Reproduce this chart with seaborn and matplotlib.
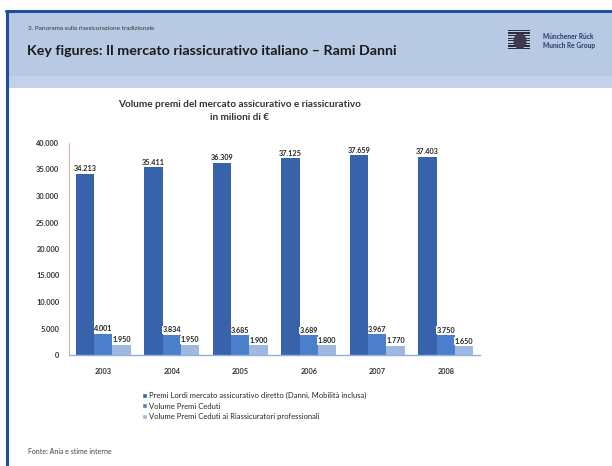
import matplotlib
matplotlib.use("Agg")
import matplotlib.pyplot as plt
import seaborn as sns
import pandas as pd
from matplotlib.patches import Rectangle, Ellipse
from matplotlib.lines import Line2D

years = ["2003", "2004", "2005", "2006", "2007", "2008"]
series_names = [
    "Premi Lordi mercato assicurativo diretto (Danni, Mobilità inclusa)",
    "Volume Premi Ceduti",
    "Volume Premi Ceduti ai Riassicuratori professionali",
]
premi_lordi = [34213, 35411, 36309, 37125, 37659, 37403]
premi_ceduti = [4001, 3834, 3685, 3689, 3967, 3750]
premi_ceduti_riass = [1950, 1950, 1900, 1800, 1770, 1650]
y_ticks = [0, 5000, 10000, 15000, 20000, 25000, 30000, 35000, 40000]
colors = ["#3863ab", "#4b7ecb", "#9fb8e0"]

def fmt(v):
    return f"{v:,}".replace(",", ".")

rows = []
for name, vals in zip(series_names, [premi_lordi, premi_ceduti, premi_ceduti_riass]):
    for y, v in zip(years, vals):
        rows.append({"Anno": y, "Serie": name, "Valore": v})
df = pd.DataFrame(rows)

sns.set_theme(style="white")
plt.rcParams["font.family"] = ["Lato", "DejaVu Sans"]

fig = plt.figure(figsize=(6.12, 4.66), dpi=100)
fig.patch.set_facecolor("white")

# slide header band and frame
fig.patches.append(Rectangle((0.0105, 1 - 88 / 466), 1.0, 76 / 466, transform=fig.transFigure,
                             facecolor="#b8c9e4", edgecolor="none", zorder=0))
fig.patches.append(Rectangle((0.0105, 1 - 88 / 466), 1.0, 12 / 466, transform=fig.transFigure,
                             facecolor="#c3d2ea", edgecolor="none", zorder=0))
fig.lines.append(Line2D([0.0105, 1.0], [1 - 11 / 466, 1 - 11 / 466], transform=fig.transFigure,
                        color="#1d4f9e", lw=2.2))
fig.lines.append(Line2D([0.0115, 0.0115], [0, 1 - 11 / 466], transform=fig.transFigure,
                        color="#1d4f9e", lw=2.2))

fig.text(28 / 612, 1 - 28 / 466, "3. Panorama sulla riassicurazione tradizionale",
         fontsize=4.6, color="#333333", va="center")
fig.text(27 / 612, 1 - 51 / 466, "Key figures: Il mercato riassicurativo italiano – Rami Danni",
         fontsize=10.3, fontweight="bold", color="#1a1a1a", va="center")
# logo
for i in range(8):
    fig.patches.append(Rectangle((508 / 612, 1 - (31 + i * 2.6) / 466), 22 / 612, 1.3 / 466,
                                 transform=fig.transFigure, facecolor="#2a2a3a", edgecolor="none"))
fig.patches.append(Ellipse((520 / 612, 1 - 41 / 466), 13 / 612, 16 / 466,
                           transform=fig.transFigure, facecolor="#3a3a4a", edgecolor="none"))
fig.text(543 / 612, 1 - 41 / 466, "Münchener Rück\nMunich Re Group", fontsize=4.8,
         fontweight="bold", color="#1f3a6e", va="center", linespacing=1.2)

fig.text(240 / 612, 1 - 104 / 466, "Volume premi del mercato assicurativo e riassicurativo",
         fontsize=7.2, fontweight="bold", color="#333333", ha="center", va="center")
fig.text(240 / 612, 1 - 118 / 466, "in milioni di €",
         fontsize=7.2, fontweight="bold", color="#333333", ha="center", va="center")

ax = fig.add_axes([69 / 612, 1 - 355 / 466, (480 - 69) / 612, (355 - 143) / 466])
sns.barplot(data=df, x="Anno", y="Valore", hue="Serie", hue_order=series_names,
            palette=colors, width=0.8, ax=ax, legend=False, saturation=1, linewidth=0)
ax.set_ylim(0, 40000)
ax.set_xlim(-0.5, 5.5)
ax.set_yticks(y_ticks)
ax.set_yticklabels([fmt(t) for t in y_ticks], fontsize=5.3, fontweight="bold", color="#333333")
ax.set_xticks(range(len(years)))
ax.set_xticklabels(years, fontsize=5.3, fontweight="bold", color="#333333")
ax.set_xlabel("")
ax.set_ylabel("")
ax.tick_params(axis="y", length=0, pad=7)
ax.tick_params(axis="x", length=0, pad=9)
for s in ["top", "right"]:
    ax.spines[s].set_visible(False)
ax.spines["left"].set_color("#c9a0a0")
ax.spines["left"].set_linewidth(0.6)
ax.spines["bottom"].set_color("#8fb0dd")
ax.spines["bottom"].set_linewidth(1.0)

for cont in ax.containers:
    labels = [fmt(int(b.get_height())) for b in cont]
    ax.bar_label(cont, labels=labels, fontsize=5.2, fontweight="bold", color="#222222",
                 padding=1.0, bbox=dict(facecolor="white", edgecolor="none", pad=0.3))

handles = [Rectangle((0, 0), 1, 1, facecolor=c) for c in colors]
fig.legend(handles, series_names, loc="upper left", bbox_to_anchor=(142 / 612, 1 - 392 / 466),
           frameon=False, fontsize=5.5, handlelength=0.6, handleheight=0.6, handletextpad=0.3,
           labelspacing=0.45, borderaxespad=0, borderpad=0)

fig.text(28 / 612, 1 - 451 / 466, "Fonte: Ania e stime interne", fontsize=5.0,
         color="#444444", va="center")

fig.savefig("out.png", dpi=100, facecolor="white")
